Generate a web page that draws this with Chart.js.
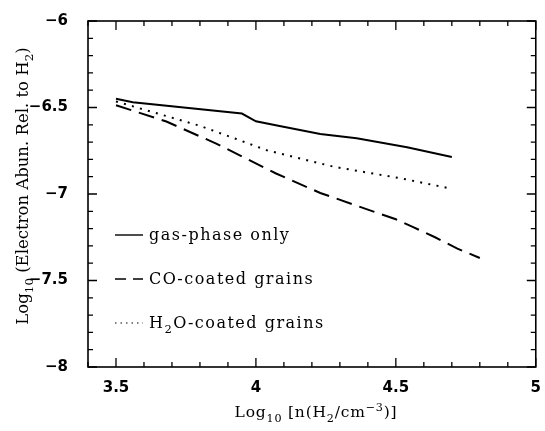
<!DOCTYPE html>
<html>
<head>
<meta charset="utf-8">
<script src="https://cdn.jsdelivr.net/npm/chart.js@4.4.1/dist/chart.umd.min.js"></script>
<style>
  html, body { margin: 0; padding: 0; background: #fff; }
  #wrap { width: 545px; height: 431px; position: relative; }
</style>
</head>
<body>
<div id="wrap"><canvas id="abunChart"></canvas></div>
<script>
// ---- data ----
const gasLogN   = [3.5, 3.56, 3.95, 4.0, 4.08, 4.23, 4.36, 4.54, 4.7];
const gasAbun   = [-6.45, -6.47, -6.535, -6.58, -6.606, -6.653, -6.678, -6.73, -6.786];

const coLogN    = [3.5, 3.68, 3.86, 4.07, 4.23, 4.4, 4.5, 4.56, 4.64, 4.72, 4.8];
const coAbun    = [-6.487, -6.581, -6.71, -6.88, -6.994, -7.09, -7.146, -7.19, -7.25, -7.316, -7.37];

const h2oLogN   = [3.5, 3.8, 3.96, 4.04, 4.28, 4.52, 4.7];
const h2oAbun   = [-6.465, -6.606, -6.70, -6.748, -6.843, -6.91, -6.97];

const seriesLabels = ['gas-phase only', 'CO-coated grains', 'H2O-coated grains'];

const xMin = 3.4, xMax = 5;
const yMin = -8, yMax = -6;

const serif = '"DejaVu Serif", "Liberation Serif", serif';
const sans = '"DejaVu Sans", "Liberation Sans", sans-serif';

function toPoints(xs, ys) {
    return xs.map((x, i) => ({ x: x, y: ys[i] }));
}

function isMajor(v) {
    return Math.abs(v * 2 - Math.round(v * 2)) < 1e-6;
}

function fmt(v) {
    let s = String(Math.round(v * 10) / 10);
    return s.replace('-', '\u2212');
}

// draw a string made of normal / sub / sup pieces
// spacing > 0 -> char by char with extra gap
function richText(ctx, parts, x, y, size, align, spacing) {
    const sub = size * 0.72;
    spacing = spacing || 0;
    const adv = t => spacing ? Array.from(t).reduce((w, ch) => w + ctx.measureText(ch).width + spacing, 0)
                             : ctx.measureText(t).width;
    let total = 0;
    parts.forEach(p => {
        ctx.font = (p.s ? sub : size) + 'px ' + serif;
        total += adv(p.t);
    });
    let cx = align === 'center' ? x - total / 2 : x;
    ctx.textAlign = 'left';
    ctx.textBaseline = 'alphabetic';
    parts.forEach(p => {
        ctx.font = (p.s ? sub : size) + 'px ' + serif;
        let dy = 0;
        if (p.s === 'sub') dy = size * 0.3;
        if (p.s === 'sup') dy = -size * 0.4;
        if (spacing) {
            for (const ch of p.t) {
                ctx.fillText(ch, cx, y + dy);
                cx += ctx.measureText(ch).width + spacing;
            }
        } else {
            ctx.fillText(p.t, cx, y + dy);
            cx += ctx.measureText(p.t).width;
        }
    });
}

const framePlugin = {
    id: 'frame',
    afterDatasetsDraw(chart) {
        const ctx = chart.ctx;
        const a = chart.chartArea;
        const xs = chart.scales.x, ys = chart.scales.y;
        ctx.save();
        ctx.strokeStyle = '#000';
        ctx.lineWidth = 1.6;
        ctx.strokeRect(a.left, a.top, a.right - a.left, a.bottom - a.top);

        // inward ticks on all four sides
        ctx.lineWidth = 1.3;
        ctx.beginPath();
        xs.ticks.forEach(t => {
            const px = xs.getPixelForValue(t.value);
            const len = isMajor(t.value) ? 9 : 5;
            ctx.moveTo(px, a.bottom); ctx.lineTo(px, a.bottom - len);
            ctx.moveTo(px, a.top); ctx.lineTo(px, a.top + len);
        });
        ys.ticks.forEach(t => {
            const py = ys.getPixelForValue(t.value);
            const len = isMajor(t.value) ? 9 : 5;
            ctx.moveTo(a.left, py); ctx.lineTo(a.left + len, py);
            ctx.moveTo(a.right, py); ctx.lineTo(a.right - len, py);
        });
        ctx.stroke();

        // legend inside the plot
        const rows = [235, 279, 323];
        const keyDash = [[], [11, 7], [1.5, 4]];
        const keyWidth = [1.4, 1.6, 1.2];
        chart.data.datasets.forEach((ds, i) => {
            const y = rows[i];
            ctx.strokeStyle = '#000';
            ctx.lineWidth = keyWidth[i];
            ctx.setLineDash(keyDash[i]);
            ctx.beginPath();
            ctx.moveTo(115, y);
            ctx.lineTo(143, y);
            ctx.stroke();
            ctx.setLineDash([]);
            ctx.fillStyle = '#000';
            if (i === 2) {
                richText(ctx, [{ t: 'H' }, { t: '2', s: 'sub' }, { t: 'O-coated grains' }], 149, y + 5, 16, 'left', 1.5);
            } else {
                richText(ctx, [{ t: ds.label }], 149, y + 5, 16, 'left', 1.5);
            }
        });

        // axis titles
        richText(ctx, [
            { t: 'Log' }, { t: '10', s: 'sub' }, { t: ' [n(H' }, { t: '2', s: 'sub' },
            { t: '/cm' }, { t: '\u22123', s: 'sup' }, { t: ')]' }
        ], 316, 417, 15.5, 'center', 0.8);

        ctx.translate(28, 186);
        ctx.rotate(-Math.PI / 2);
        richText(ctx, [
            { t: 'Log' }, { t: '10', s: 'sub' }, { t: ' (Electron Abun. Rel. to H' },
            { t: '2', s: 'sub' }, { t: ')' }
        ], 0, 0, 16.5, 'center', 0);
        ctx.restore();
    }
};

const lineStyle = {
    borderColor: '#000',
    borderWidth: 2,
    pointRadius: 0,
    tension: 0,
    fill: false
};

new Chart(document.getElementById('abunChart'), {
    type: 'line',
    data: {
        datasets: [
            Object.assign({ label: seriesLabels[0], data: toPoints(gasLogN, gasAbun) }, lineStyle),
            Object.assign({ label: seriesLabels[1], data: toPoints(coLogN, coAbun), borderDash: [16, 8] }, lineStyle),
            Object.assign({ label: seriesLabels[2], data: toPoints(h2oLogN, h2oAbun), borderDash: [2, 6.3] }, lineStyle)
        ]
    },
    options: {
        responsive: true,
        maintainAspectRatio: false,
        animation: false,
        events: [],
        layout: { padding: { top: 15, right: 4, left: 0, bottom: 0 } },
        plugins: { legend: { display: false }, tooltip: { enabled: false } },
        scales: {
            x: {
                type: 'linear',
                min: xMin, max: xMax,
                grid: { display: false },
                border: { display: false },
                afterFit(scale) { scale.height = 64; },
                ticks: {
                    stepSize: 0.1,
                    autoSkip: false,
                    maxRotation: 0,
                    padding: 4,
                    color: '#000',
                    font: { family: sans, size: 15, weight: 'bold' },
                    callback: v => isMajor(v) ? fmt(v) : ''
                }
            },
            y: {
                type: 'linear',
                min: yMin, max: yMax,
                grid: { display: false },
                border: { display: false },
                afterFit(scale) { scale.width = 88; },
                ticks: {
                    stepSize: 0.1,
                    autoSkip: false,
                    padding: 12,
                    color: '#000',
                    font: { family: sans, size: 15, weight: 'bold' },
                    callback: v => isMajor(v) ? fmt(v) : ''
                }
            }
        }
    },
    plugins: [framePlugin]
});
</script>
</body>
</html>
